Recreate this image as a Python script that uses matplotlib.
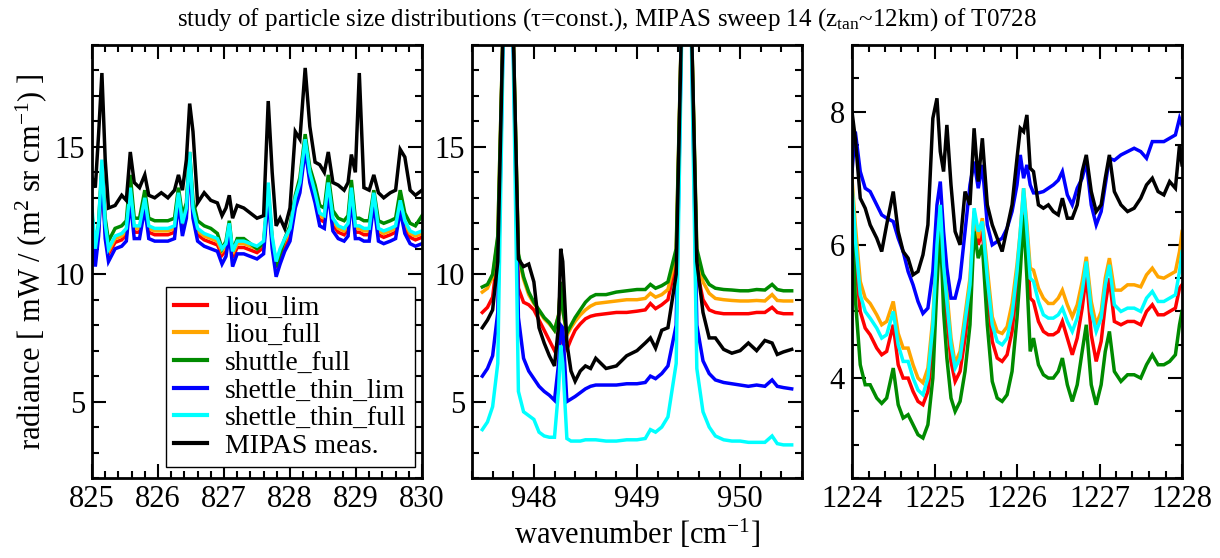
import matplotlib
matplotlib.use("Agg")
import matplotlib.pyplot as plt
from matplotlib.ticker import MultipleLocator

plt.rcParams['font.family'] = ['Liberation Serif', 'DejaVu Serif']
plt.rcParams['mathtext.fontset'] = 'custom'
plt.rcParams['mathtext.rm'] = 'Liberation Serif'
plt.rcParams['mathtext.it'] = 'Liberation Serif:italic'

labels = ["liou_lim", "liou_full", "shuttle_full", "shettle_thin_lim",
          "shettle_thin_full", "MIPAS meas."]
colors = ["#ff0000", "#ffa500", "#008b00", "#0000ff", "#00ffff", "#000000"]

# ---------------- panel 1 : 825-830 cm-1 ----------------
x1 = [825.00, 825.05, 825.10, 825.15, 825.20, 825.25, 825.35, 825.45, 825.52, 825.58,
      825.64, 825.72, 825.80, 825.86, 825.95, 826.05, 826.15, 826.25, 826.31, 826.37,
      826.43, 826.48, 826.53, 826.60, 826.70, 826.80, 826.90, 826.97, 827.03, 827.08,
      827.13, 827.20, 827.30, 827.40, 827.50, 827.60, 827.67, 827.73, 827.79, 827.85,
      827.92, 828.00, 828.08, 828.15, 828.23, 828.30, 828.38, 828.45, 828.52, 828.58,
      828.65, 828.73, 828.82, 828.88, 828.93, 828.99, 829.05, 829.12, 829.20, 829.27,
      829.34, 829.42, 829.52, 829.60, 829.67, 829.74, 829.82, 829.90, 830.00]
red1 = [12.3, 10.7, 11.7, 14.2, 11.7, 10.8, 11.25, 11.35, 11.55, 13.1,
        11.65, 11.65, 12.8, 11.65, 11.55, 11.55, 11.55, 11.65, 13.0, 11.75,
        12.4, 14.6, 12.4, 11.55, 11.35, 11.25, 11.15, 10.75, 10.95, 11.8,
        10.65, 11.05, 11.05, 10.95, 10.85, 11.05, 13.3, 11.25, 10.25, 10.75,
        11.15, 11.55, 12.8, 13.4, 15.1, 13.8, 13.0, 12.15, 12.05, 13.4,
        11.95, 11.65, 11.55, 11.75, 13.2, 11.65, 11.65, 11.55, 11.55, 13.0,
        11.55, 11.45, 11.55, 11.65, 12.7, 11.85, 11.45, 11.35, 11.45]
orange1 = [12.4, 10.8, 11.8, 14.3, 11.8, 10.9, 11.4, 11.5, 11.7, 13.2,
           11.8, 11.8, 12.9, 11.8, 11.7, 11.7, 11.7, 11.8, 13.1, 11.9,
           12.5, 14.7, 12.5, 11.7, 11.5, 11.4, 11.3, 10.9, 11.1, 11.9,
           10.8, 11.2, 11.2, 11.1, 11.0, 11.2, 13.4, 11.4, 10.4, 10.9,
           11.3, 11.7, 12.9, 13.5, 15.2, 13.9, 13.1, 12.3, 12.2, 13.5,
           12.1, 11.8, 11.7, 11.9, 13.3, 11.8, 11.8, 11.7, 11.7, 13.1,
           11.7, 11.6, 11.7, 11.8, 12.8, 12.0, 11.6, 11.5, 11.6]
green1 = [12.3, 11.0, 12.0, 14.2, 12.2, 11.3, 11.8, 11.9, 12.1, 13.9,
          12.2, 12.2, 13.3, 12.2, 12.1, 12.1, 12.1, 12.2, 13.4, 12.3,
          12.8, 14.8, 12.9, 12.1, 11.9, 11.8, 11.6, 11.0, 11.3, 12.1,
          10.9, 11.4, 11.4, 11.2, 11.0, 11.2, 13.2, 11.3, 10.3, 10.8,
          11.4, 11.9, 13.1, 13.8, 15.5, 14.2, 13.5, 12.7, 12.6, 13.9,
          12.5, 12.2, 12.1, 12.3, 13.7, 12.2, 12.2, 12.1, 12.1, 13.3,
          12.1, 12.0, 12.1, 12.2, 13.3, 12.4, 12.0, 11.9, 12.3]
blue1 = [12.0, 10.3, 11.5, 14.0, 11.4, 10.5, 11.0, 11.1, 11.3, 12.9,
         11.4, 11.4, 12.6, 11.4, 11.3, 11.3, 11.3, 11.4, 12.8, 11.5,
         12.2, 14.5, 12.2, 11.3, 11.1, 11.0, 10.9, 10.4, 10.7, 11.6,
         10.3, 10.8, 10.8, 10.7, 10.6, 10.8, 13.1, 11.0, 9.9, 10.4,
         10.9, 11.3, 12.6, 13.2, 14.9, 13.6, 12.8, 11.9, 11.8, 13.2,
         11.7, 11.4, 11.3, 11.5, 13.0, 11.4, 11.4, 11.3, 11.3, 12.8,
         11.3, 11.2, 11.3, 11.4, 12.5, 11.6, 11.2, 11.1, 11.2]
cyan1 = [12.6, 11.0, 12.0, 14.5, 12.0, 11.0, 11.5, 11.6, 11.8, 13.4,
         11.9, 11.9, 13.0, 11.9, 11.8, 11.8, 11.8, 11.9, 13.2, 12.0,
         12.6, 14.8, 12.6, 11.8, 11.6, 11.5, 11.4, 11.0, 11.2, 12.0,
         10.9, 11.3, 11.3, 11.2, 11.1, 11.3, 13.6, 11.5, 10.5, 11.0,
         11.4, 11.8, 13.0, 13.6, 15.3, 14.0, 13.2, 12.4, 12.3, 13.6,
         12.2, 11.9, 11.8, 12.0, 13.4, 11.9, 11.9, 11.8, 11.8, 13.2,
         11.8, 11.7, 11.8, 11.9, 12.9, 12.1, 11.7, 11.6, 11.7]
black1 = [13.8, 13.4, 15.5, 17.9, 14.5, 12.6, 12.7, 13.1, 12.9, 14.8,
          13.6, 13.4, 13.9, 13.1, 13.0, 13.2, 13.0, 13.3, 13.9, 13.3,
          14.5, 16.7, 15.6, 12.8, 13.2, 12.9, 12.8, 12.3, 12.6, 13.1,
          12.2, 12.7, 12.6, 12.4, 12.2, 12.3, 16.8, 14.0, 11.9, 12.2,
          11.8, 12.6, 15.6, 15.3, 18.1, 15.8, 14.4, 14.3, 14.0, 14.8,
          13.6, 13.5, 13.3, 13.6, 14.7, 14.0, 17.9, 13.4, 13.3, 13.9,
          13.2, 13.0, 13.2, 13.3, 14.9, 14.6, 13.3, 13.1, 13.3]

# ---------------- panel 2 : 947.4-950.6 cm-1 ----------------
x2 = [947.50, 947.55, 947.60, 947.65, 947.70, 947.75, 947.80, 947.85, 947.90, 947.95,
      948.00, 948.05, 948.10, 948.15, 948.20, 948.24, 948.26, 948.28, 948.32, 948.36,
      948.40, 948.45, 948.50, 948.55, 948.60, 948.70, 948.80, 948.90, 949.00, 949.08,
      949.13, 949.18, 949.24, 949.30, 949.38, 949.43, 949.48, 949.53, 949.58, 949.64,
      949.70, 949.76, 949.84, 949.92, 950.00, 950.08, 950.16, 950.24, 950.31, 950.36,
      950.42, 950.50]
red2 = [8.5, 8.7, 9.1, 10.8, 19.3, 40, 19.3, 9.45, 8.9, 8.8,
        8.6, 8.2, 7.8, 7.4, 7.0, 7.3, 7.85, 7.3, 7.05, 7.45,
        7.8, 8.05, 8.25, 8.35, 8.4, 8.45, 8.5, 8.5, 8.55, 8.6,
        8.85, 8.65, 8.8, 9.0, 10.5, 19.3, 40, 19.3, 10.2, 9.0,
        8.6, 8.5, 8.45, 8.45, 8.45, 8.45, 8.5, 8.5, 8.7, 8.5,
        8.45, 8.45]
orange2 = [9.3, 9.45, 9.9, 11.4, 19.5, 40, 19.5, 10.7, 9.8, 9.2,
           8.85, 8.55, 8.25, 8.05, 7.8, 8.4, 9.7, 8.6, 7.6, 7.9,
           8.15, 8.4, 8.6, 8.75, 8.85, 8.9, 8.95, 9.0, 9.0, 9.05,
           9.25, 9.1, 9.2, 9.4, 10.8, 19.5, 40, 19.5, 10.8, 9.7,
           9.25, 9.05, 9.0, 8.97, 8.95, 8.95, 8.97, 8.95, 9.2, 8.97,
           8.95, 8.95]
green2 = [9.5, 9.6, 10.0, 11.5, 19.5, 40, 19.5, 10.8, 9.9, 9.3,
          8.9, 8.6, 8.3, 8.1, 7.8, 8.4, 9.7, 8.6, 7.7, 8.0,
          8.3, 8.6, 8.9, 9.1, 9.2, 9.2, 9.3, 9.35, 9.4, 9.4,
          9.6, 9.45, 9.55, 9.7, 11.0, 19.5, 40, 19.5, 11.0, 10.0,
          9.6, 9.45, 9.4, 9.38, 9.35, 9.35, 9.4, 9.38, 9.6, 9.4,
          9.35, 9.35]
blue2 = [6.0, 6.3, 6.8, 8.5, 19.0, 40, 19.0, 8.3, 6.7, 6.2,
         5.9, 5.6, 5.4, 5.25, 5.05, 6.5, 8.0, 7.9, 5.0, 5.1,
         5.2, 5.35, 5.5, 5.6, 5.65, 5.65, 5.65, 5.7, 5.7, 5.75,
         6.0, 5.9, 6.1, 6.4, 8.0, 19.0, 40, 19.0, 8.0, 6.6,
         6.1, 5.85, 5.75, 5.7, 5.65, 5.6, 5.65, 5.6, 5.85, 5.6,
         5.55, 5.5]
cyan2 = [3.9, 4.2, 4.8, 6.5, 18.5, 40, 18.5, 5.4, 4.6, 4.45,
         4.3, 3.8, 3.65, 3.6, 3.6, 5.5, 7.2, 6.5, 3.55, 3.45,
         3.45, 3.45, 3.5, 3.5, 3.5, 3.45, 3.45, 3.5, 3.5, 3.55,
         3.9, 3.8, 4.0, 4.4, 6.5, 18.5, 40, 18.5, 6.3, 4.6,
         4.0, 3.65, 3.5, 3.45, 3.45, 3.4, 3.4, 3.4, 3.65, 3.35,
         3.3, 3.3]
black2 = [7.9, 8.2, 8.6, 10.5, 19.5, 40, 19.5, 10.6, 10.3, 10.4,
          9.7, 7.9, 7.3, 6.8, 6.4, 8.0, 11.0, 10.5, 7.3, 6.2,
          5.8, 6.2, 6.4, 6.3, 6.7, 6.3, 6.4, 6.8, 7.0, 7.3,
          7.5, 7.1, 7.8, 7.9, 10.0, 19.5, 40, 19.5, 10.5, 8.5,
          7.5, 7.5, 7.05, 6.9, 7.0, 7.3, 7.0, 7.4, 7.3, 6.85,
          6.95, 7.05]

# ---------------- panel 3 : 1224-1228 cm-1 ----------------
x3 = [1224.00, 1224.04, 1224.10, 1224.16, 1224.22, 1224.30, 1224.36, 1224.42, 1224.50, 1224.56,
      1224.62, 1224.68, 1224.74, 1224.80, 1224.86, 1224.92, 1224.98, 1225.03, 1225.07, 1225.11,
      1225.15, 1225.20, 1225.25, 1225.31, 1225.37, 1225.43, 1225.48, 1225.53, 1225.58, 1225.64,
      1225.70, 1225.76, 1225.82, 1225.88, 1225.94, 1226.00, 1226.04, 1226.08, 1226.12, 1226.16,
      1226.20, 1226.26, 1226.32, 1226.38, 1226.44, 1226.50, 1226.55, 1226.61, 1226.67, 1226.73,
      1226.79, 1226.84, 1226.90, 1226.96, 1227.02, 1227.07, 1227.12, 1227.18, 1227.26, 1227.34,
      1227.42, 1227.50, 1227.57, 1227.64, 1227.71, 1227.78, 1227.85, 1227.92, 1227.97, 1228.00]
red3 = [6.7, 5.8, 5.0, 4.75, 4.65, 4.45, 4.35, 4.4, 4.8, 4.2,
        4.0, 4.0, 3.8, 3.65, 3.6, 3.8, 4.5, 5.8, 6.5, 5.5,
        4.9, 4.25, 3.95, 4.1, 4.6, 5.2, 6.4, 6.0, 6.2, 5.3,
        4.55, 4.3, 4.25, 4.35, 4.7, 5.4, 6.0, 6.7, 6.0, 5.2,
        5.15, 4.85, 4.7, 4.65, 4.65, 4.7, 4.85, 4.6, 4.35, 4.6,
        5.05, 5.55, 4.65, 4.25, 4.55, 5.1, 5.5, 4.85, 4.8, 4.85,
        4.85, 4.8, 5.0, 5.1, 4.95, 4.95, 5.0, 5.05, 5.35, 5.4]
orange3 = [7.0, 6.3, 5.45, 5.2, 5.12, 4.95, 4.8, 4.85, 5.15, 4.67,
           4.45, 4.45, 4.2, 4.0, 3.93, 4.15, 4.9, 6.0, 6.6, 5.8,
           5.3, 4.6, 4.22, 4.4, 4.95, 5.5, 6.5, 6.1, 6.4, 5.65,
           4.92, 4.7, 4.67, 4.77, 5.12, 5.7, 6.2, 6.85, 6.3, 5.65,
           5.62, 5.35, 5.2, 5.12, 5.12, 5.2, 5.32, 5.1, 4.92, 5.1,
           5.45, 5.82, 5.15, 4.8, 5.0, 5.5, 5.8, 5.32, 5.32, 5.4,
           5.4, 5.37, 5.55, 5.65, 5.52, 5.5, 5.55, 5.6, 5.9, 6.2]
green3 = [6.5, 5.2, 4.2, 3.9, 3.9, 3.7, 3.62, 3.7, 4.15, 3.6,
          3.4, 3.45, 3.3, 3.15, 3.1, 3.3, 4.0, 5.4, 6.3, 5.0,
          4.3, 3.7, 3.5, 3.65, 4.1, 4.8, 6.2, 5.8, 6.0, 4.8,
          3.95, 3.7, 3.65, 3.75, 4.1, 4.9, 5.6, 6.45, 5.5, 4.4,
          4.6, 4.2, 4.05, 4.0, 4.0, 4.1, 4.3, 3.9, 3.65, 3.9,
          4.4, 4.8, 3.9, 3.6, 3.9, 4.4, 4.7, 4.1, 3.95, 4.05,
          4.05, 4.0, 4.2, 4.35, 4.2, 4.2, 4.25, 4.35, 4.8, 5.0]
blue3 = [7.1, 7.7, 7.1, 6.85, 6.8, 6.6, 6.45, 6.4, 6.35, 6.1,
         5.9, 5.6, 5.4, 5.15, 4.97, 5.05, 5.6, 6.6, 6.95, 6.2,
         5.65, 5.2, 5.2, 5.5, 6.2, 6.9, 7.25, 6.85, 7.2, 6.3,
         6.0, 6.05, 6.1, 6.25, 6.5, 6.9, 7.35, 7.0, 7.2, 6.9,
         6.78, 6.78, 6.8, 6.85, 6.9, 6.97, 7.1, 6.75, 6.6, 6.85,
         7.0, 7.25, 6.6, 6.3, 6.5, 6.9, 7.3, 7.27, 7.35, 7.4,
         7.45, 7.4, 7.3, 7.55, 7.55, 7.55, 7.6, 7.65, 7.9, 7.8]
cyan3 = [6.9, 6.1, 5.25, 5.0, 4.9, 4.75, 4.6, 4.65, 5.0, 4.5,
         4.25, 4.25, 4.0, 3.82, 3.75, 4.0, 4.8, 6.0, 6.6, 5.7,
         5.15, 4.5, 4.15, 4.3, 4.85, 5.4, 6.55, 6.2, 6.35, 5.5,
         4.8, 4.55, 4.5, 4.6, 4.95, 5.6, 6.2, 6.85, 6.2, 5.5,
         5.45, 5.15, 4.95, 4.9, 4.9, 4.95, 5.05, 4.85, 4.7, 4.9,
         5.3, 5.75, 5.0, 4.7, 4.9, 5.4, 5.7, 5.1, 5.0, 5.05,
         5.05, 5.0, 5.2, 5.3, 5.15, 5.15, 5.2, 5.25, 5.6, 5.9]
black3 = [8.0, 7.6, 6.7, 6.55, 6.3, 6.1, 5.9, 6.3, 6.8, 6.2,
          5.9, 5.8, 5.55, 5.6, 5.85, 6.3, 7.9, 8.2, 7.4, 7.1,
          7.8, 6.9, 6.2, 6.0, 6.8, 6.6, 7.75, 6.95, 7.6, 6.6,
          6.3, 6.1, 5.9, 6.25, 6.6, 7.3, 7.75, 7.7, 7.95, 7.15,
          7.1, 6.6, 6.55, 6.6, 6.5, 6.45, 6.7, 6.4, 6.4, 6.6,
          7.1, 7.35, 6.8, 6.5, 6.6, 7.0, 7.35, 6.8, 6.6, 6.5,
          6.55, 6.7, 6.9, 7.0, 6.8, 6.75, 6.95, 6.85, 7.5, 7.2]

panels = [
    dict(x=x1, ys=[red1, orange1, green1, blue1, cyan1, black1],
         xlim=(825, 830), ylim=(2, 19), ymaj=5, ymin=1,
         xticks=[825, 826, 827, 828, 829, 830]),
    dict(x=x2, ys=[red2, orange2, green2, blue2, cyan2, black2],
         xlim=(947.4, 950.6), ylim=(2, 19), ymaj=5, ymin=1,
         xticks=[948, 949, 950]),
    dict(x=x3, ys=[red3, orange3, green3, blue3, cyan3, black3],
         xlim=(1224, 1228), ylim=(2.5, 9), ymaj=2, ymin=0.5,
         xticks=[1224, 1225, 1226, 1227, 1228]),
]

W, H = 1220, 558
fig = plt.figure(figsize=(W / 100, H / 100), dpi=100)
lefts = [92, 472, 852]
axw, top, bot = 330, 45, 478
axes = []
for left, p in zip(lefts, panels):
    ax = fig.add_axes([left / W, 1 - bot / H, axw / W, (bot - top) / H])
    for y, c, lab in zip(p['ys'], colors, labels):
        ax.plot(p['x'], y, color=c, lw=2.5, label=lab, solid_joinstyle='miter')
    ax.set_xlim(*p['xlim'])
    ax.set_ylim(*p['ylim'])
    ax.set_xticks(p['xticks'])
    ax.set_xticklabels([str(t) for t in p['xticks']])
    ax.xaxis.set_minor_locator(MultipleLocator(0.2))
    ax.yaxis.set_major_locator(MultipleLocator(p['ymaj']))
    ax.yaxis.set_minor_locator(MultipleLocator(p['ymin']))
    ax.tick_params(which='both', direction='in', top=True, right=True,
                   width=1.5, labelsize=22)
    ax.tick_params(which='major', length=10, pad=5)
    ax.tick_params(which='minor', length=5)
    for s in ax.spines.values():
        s.set_linewidth(2.0)
    axes.append(ax)

axes[0].set_ylabel(r"radiance [ mW / (m$^2$ sr cm$^{-1}$) ]", fontsize=22, labelpad=4)
axes[1].set_xlabel(r"wavenumber [cm$^{-1}$]", fontsize=22, labelpad=3)

leg = axes[0].legend(loc='lower right', bbox_to_anchor=(0.979, 0.025), fontsize=20,
                     frameon=True, fancybox=False, framealpha=1, edgecolor='black',
                     handlelength=1.2, handletextpad=0.65, labelspacing=0.08,
                     borderpad=0.3, borderaxespad=0)
leg.get_frame().set_linewidth(1.0)
for h in leg.get_lines():
    h.set_linewidth(3)

fig.text(0.497, 0.955,
         "study of particle size distributions (τ=const.), MIPAS sweep 14 (z$_{\\mathrm{tan}}$~12km) of T0728",
         ha='center', va='baseline', fontsize=18)

fig.savefig("out.png", dpi=100)
